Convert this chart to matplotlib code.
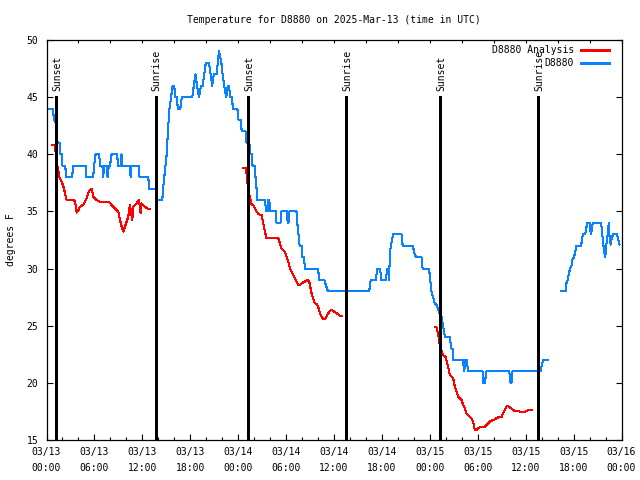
import numpy as np
import matplotlib
matplotlib.use('Agg')
import matplotlib.pyplot as plt

plt.rcParams['font.family'] = ['DejaVu Sans Mono']
plt.rcParams['font.size'] = 7

nan = np.nan

# hours since 03/13 00:00 UTC
obs_hours = [
    0.0, 0.85, 0.9, 1.12, 1.17, 1.33, 1.38, 1.65, 1.7, 1.95, 2.0, 2.35, 2.45, 3.2, 3.35, 4.9,
    5.0, 5.85, 5.95, 6.15, 6.6, 6.7, 7.0, 7.1, 7.2, 7.55, 7.65, 7.8, 7.95, 8.15, 8.85, 8.95,
    9.3, 9.4, 9.5, 10.45, 10.53, 10.6, 11.55, 11.65, 12.75, 12.85, 13.7, 13.8, 14.5,
    14.6, 14.75, 14.9, 15.05, 15.2, 15.4, 15.6, 15.8, 16.0, 16.1, 16.3, 16.45, 16.75, 16.95,
    18.25, 18.45, 18.65, 18.85, 19.1, 19.35, 19.55, 19.75, 19.95, 20.35, 20.55, 20.75, 20.95,
    21.3, 21.45, 21.6, 21.75, 21.9, 22.05, 22.25, 22.5, 22.7, 22.85, 23.0, 23.2, 23.35, 23.9,
    24.05, 24.3, 24.45, 24.95, 25.05, 25.4, 25.5, 25.75, 25.8, 26.05, 26.1, 26.2, 26.3, 26.4,
    27.35, 27.5, 27.7, 27.8, 27.9, 28.0, 28.75, 28.8, 29.3, 29.4, 30.1, 30.2, 30.3, 30.4,
    31.3, 31.4, 31.55, 31.7, 31.95, 32.05, 32.25, 32.35, 34.0, 34.15, 34.8, 35.0, 35.25,
    40.4, 40.6, 41.2, 41.45, 41.75, 41.95, 42.45, 42.7, 42.82, 42.9, 43.0, 43.2, 43.4, 44.45,
    44.6, 45.9, 46.0, 46.25, 46.95, 47.1, 47.9, 48.05, 48.2, 48.4, 48.6, 48.85, 49.05, 49.25,
    49.45, 49.65, 49.9, 50.5, 50.7, 50.9, 50.95, 52.15, 52.3, 52.45, 52.6, 52.8, 54.6, 54.68,
    54.88, 55.1, 57.95, 58.1, 58.22, 58.35, 61.85, 62.18, 62.8,
    63.5,
    64.4, 65.0, 65.1, 65.25, 65.4, 65.55, 65.75, 65.85, 66.05, 66.25, 66.35, 66.5, 66.95, 67.05,
    67.2, 67.45, 67.6, 67.75, 68.0, 68.1, 68.2, 68.35, 68.45, 69.45, 69.6, 69.7, 69.8, 69.95,
    70.05, 70.15, 70.3, 70.4, 70.5, 70.65, 70.75, 70.95, 71.45, 71.6, 71.75,
]
obs_temps = [
    44, 44, 43, 43, 42, 42, 41, 41, 40, 40, 39, 39, 38, 38, 39, 39,
    38, 38, 39, 40, 40, 39, 39, 38, 39, 39, 38, 39, 39, 40, 40, 39,
    39, 40, 39, 39, 38, 39, 39, 38, 38, 37, 37, 36, 36,
    37, 38, 39, 40, 42, 44, 45, 46, 46, 45, 45, 44, 44, 45,
    45, 46, 47, 46, 45, 46, 46, 47, 48, 48, 47, 46, 47,
    47, 48, 49, 48.5, 48, 47, 46, 45, 46, 46, 45, 45, 44, 44,
    43, 43, 42, 42, 41, 41, 40, 40, 39, 39, 38, 38, 37, 36,
    36, 35, 35, 36, 36, 35, 35, 34, 34, 35, 35, 34, 34, 35,
    35, 34, 33, 32, 32, 31, 31, 30, 30, 29, 29, 28.5, 28,
    28, 29, 29, 30, 30, 29, 29, 30, 29.6, 29, 31.4, 32.3, 33, 33,
    32, 32, 31.5, 31, 31, 30, 30, 29, 28, 27.5, 27, 26.8, 26.4, 26,
    25.8, 25, 24, 24, 23, 23, 22, 22, 21, 22, 22, 21, 21, 20,
    20, 21, 21, 20, 20, 21, 21, 22, 22,
    nan,
    28, 28, 28.7, 29, 29.5, 30, 30.3, 30.8, 31, 31.6, 32, 32, 32, 32.6,
    33, 33, 33.6, 34, 34, 33.3, 33, 33.8, 34, 34, 33, 32.4, 31.6, 31,
    31.6, 32.4, 33.1, 34, 32.8, 32.1, 32.6, 33, 33, 32.5, 32.1,
]

ana_hours = [
    0.65, 1.06, 1.15, 1.27, 1.48, 1.61, 1.9, 2.11, 2.31, 2.52, 3.57, 3.77, 3.98, 4.19, 4.61,
    5.03, 5.24, 5.44, 5.65, 5.86, 6.07, 6.28, 6.69, 7.11, 7.87, 8.16, 8.57, 8.99, 9.2, 9.41,
    9.62, 9.83, 10.03, 10.24, 10.45, 10.74, 10.87, 11.29, 11.58, 11.79, 11.91, 12.12, 12.54, 12.95,
    18.0,
    24.63, 24.93, 25.05, 25.14, 25.26, 25.39, 25.55, 25.7, 25.89, 26.1, 26.3, 26.6, 26.93,
    27.14, 27.35, 27.56, 29.02, 29.22, 29.43, 29.64, 29.85, 30.06, 30.27, 30.48, 30.68, 30.89,
    31.1, 31.31, 31.52, 31.73, 31.94, 32.35, 32.65, 32.9, 33.19, 33.4, 33.6, 33.81, 34.02,
    34.23, 34.44, 34.65, 34.86, 35.07, 35.28, 35.48, 35.69, 35.9, 36.32, 36.74, 36.94,
    42.0,
    48.63, 48.83, 48.96, 49.12, 49.25, 49.38, 49.55, 49.75, 49.96, 50.08, 50.29, 50.5, 50.71,
    50.92, 51.13, 51.33, 51.54, 51.75, 51.96, 52.17, 52.38, 52.59, 52.8, 53.0, 53.21, 53.42,
    53.63, 53.84, 54.05, 54.26, 54.46, 54.88, 55.1, 55.5, 55.92, 56.13, 56.55, 56.96, 57.17,
    57.38, 57.59, 57.8, 58.01, 58.42, 58.63, 59.05, 59.26, 59.89, 60.1, 60.3, 60.72, 60.85,
]
ana_temps = [
    40.8, 40.8, 40.1, 39.2, 38.6, 38.0, 37.6, 37.2, 36.6, 36.0, 35.95, 34.9, 35.1, 35.4, 35.6,
    36.15, 36.6, 36.9, 37.0, 36.3, 36.15, 36.0, 35.86, 35.86, 35.8, 35.56, 35.27, 34.98, 34.25, 33.67,
    33.24, 33.67, 34.1, 34.54, 35.56, 34.25, 35.4, 35.7, 36.0, 34.85, 35.7, 35.56, 35.27, 35.2,
    nan,
    38.78, 38.78, 38.34, 37.61, 37.02, 36.44, 36.0, 35.56, 35.56, 35.25, 34.98, 34.75, 34.69,
    33.96, 33.23, 32.65, 32.65, 32.21, 31.77, 31.6, 31.48, 31.04, 30.61, 30.02, 29.73, 29.44,
    29.15, 28.86, 28.57, 28.57, 28.71, 28.86, 29.0, 28.86, 27.83, 27.39, 26.96, 26.9, 26.67,
    26.09, 25.8, 25.56, 25.56, 25.8, 26.09, 26.29, 26.38, 26.29, 26.09, 25.88, 25.88,
    nan,
    24.86, 24.86, 24.48, 23.9, 23.31, 23.02, 22.59, 22.35, 22.29, 22.0, 21.42, 20.69, 20.54,
    20.4, 19.67, 19.23, 18.79, 18.65, 18.5, 18.06, 17.77, 17.34, 17.19, 17.04, 16.9, 16.61,
    15.88, 15.88, 16.03, 16.11, 16.17, 16.17, 16.32, 16.61, 16.75, 16.81, 16.98, 16.98, 17.34,
    17.63, 17.92, 17.98, 17.86, 17.63, 17.54, 17.54, 17.48, 17.48, 17.54, 17.63, 17.63, 17.63,
]

sun_hours = [1.19, 13.65, 25.26, 37.55, 49.28, 61.55]
sun_labels = ['Sunset', 'Sunrise', 'Sunset', 'Sunrise', 'Sunset', 'Sunrise']

xtick_hours = list(range(0, 73, 6))
xtick_labels = ['03/13\n00:00', '03/13\n06:00', '03/13\n12:00', '03/13\n18:00',
                '03/14\n00:00', '03/14\n06:00', '03/14\n12:00', '03/14\n18:00',
                '03/15\n00:00', '03/15\n06:00', '03/15\n12:00', '03/15\n18:00',
                '03/16\n00:00']
ytick_values = [15, 20, 25, 30, 35, 40, 45, 50]

red = '#ff0000'
blue = '#0a82ff'

fig = plt.figure(figsize=(6.4, 4.8), dpi=100)
ax = fig.add_axes([46.5 / 640, 40 / 480, 575 / 640, 400 / 480])

ax.plot(ana_hours, ana_temps, color=red, lw=0.75, antialiased=False)
ax.plot(obs_hours, obs_temps, color=blue, lw=0.75, antialiased=False)

for t, lab in zip(sun_hours, sun_labels):
    ax.plot([t, t], [45, 15], color='black', lw=0.8, antialiased=False)
    ax.text(t + 0.15, 45.5, lab, rotation=90, ha='center', va='bottom')

ax.set_xlim(0, 72)
ax.set_ylim(15, 50)
ax.set_xticks(xtick_hours)
ax.set_xticklabels(xtick_labels, linespacing=1.7)
ax.set_xticks(range(0, 73, 2), minor=True)
ax.set_yticks(ytick_values)
ax.tick_params(axis='x', which='major', direction='in', length=4, width=0.8, pad=5)
ax.tick_params(axis='x', which='minor', direction='in', length=2.2, width=0.8)
ax.tick_params(axis='y', direction='in', length=4, width=0.8, right=True, pad=6)
top = ax.secondary_xaxis('top')
top.set_xticks(range(0, 73, 4))
top.tick_params(direction='in', length=2.5, width=0.8, labeltop=False)
top.spines['top'].set_visible(False)
for s in ax.spines.values():
    s.set_linewidth(0.9)

ax.set_ylabel('degrees F', fontsize=7)
ax.yaxis.set_label_coords(-0.053, 0.5)
ax.set_title('Temperature for D8880 on 2025-Mar-13 (time in UTC)', fontsize=7, pad=12)

# gnuplot-style key: text right-aligned, sample line after it
ax.text(0.917, 0.975, 'D8880 Analysis', transform=ax.transAxes, ha='right', va='center')
ax.plot([0.929, 0.978], [0.975, 0.975], transform=ax.transAxes, color=red, lw=0.75,
        antialiased=False)
ax.text(0.917, 0.9425, 'D8880', transform=ax.transAxes, ha='right', va='center')
ax.plot([0.929, 0.978], [0.9425, 0.9425], transform=ax.transAxes, color=blue, lw=0.75,
        antialiased=False)

fig.savefig('out.png', dpi=100)
